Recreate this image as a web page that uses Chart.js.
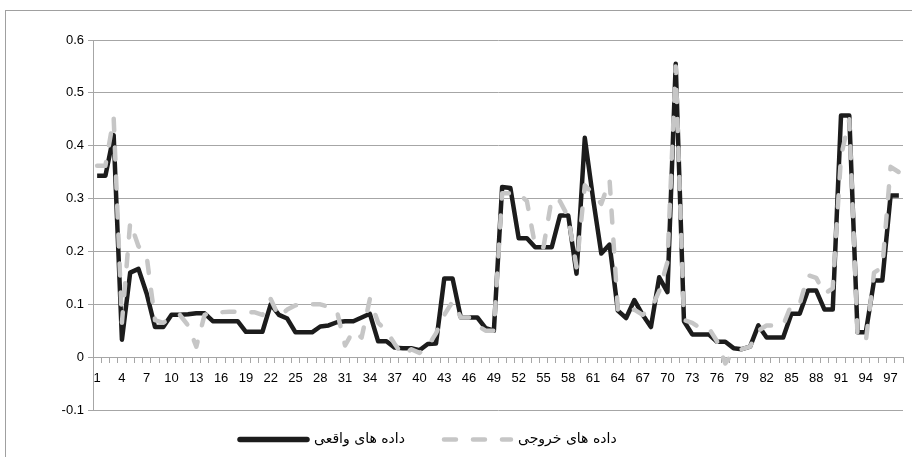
<!DOCTYPE html>
<html><head><meta charset="utf-8">
<script src="https://cdn.jsdelivr.net/npm/chart.js@4"></script>
<style>html,body{margin:0;padding:0;background:#fff;}canvas{display:block}</style>
</head><body>
<canvas id="c" width="912" height="457"></canvas>
<script>
const categories = ['1','2','3','4','5','6','7','8','9','10','11','12','13','14','15','16','17','18','19','20',
'21','22','23','24','25','26','27','28','29','30','31','32','33','34','35','36','37','38','39','40',
'41','42','43','44','45','46','47','48','49','50','51','52','53','54','55','56','57','58','59','60',
'61','62','63','64','65','66','67','68','69','70','71','72','73','74','75','76','77','78','79','80',
'81','82','83','84','85','86','87','88','89','90','91','92','93','94','95','96','97','98'];

const actualValues = [0.343,0.343,0.42,0.033,0.16,0.167,0.12,0.057,0.057,0.08,
0.08,0.081,0.083,0.083,0.068,0.068,0.068,0.068,0.048,0.048,
0.048,0.1,0.08,0.073,0.047,0.047,0.047,0.058,0.06,0.066,
0.068,0.068,0.075,0.082,0.03,0.03,0.018,0.017,0.017,0.013,
0.025,0.026,0.149,0.149,0.075,0.075,0.075,0.055,0.05,0.322,
0.32,0.225,0.225,0.208,0.208,0.208,0.268,0.268,0.158,0.415,
0.3,0.196,0.213,0.088,0.074,0.108,0.08,0.057,0.151,0.123,
0.555,0.068,0.043,0.043,0.043,0.029,0.029,0.017,0.015,0.02,
0.06,0.037,0.037,0.037,0.082,0.082,0.126,0.126,0.09,0.09,
0.457,0.457,0.047,0.047,0.145,0.145,0.306,0.306];

const outputValues = [0.362,0.362,0.453,0.065,0.255,0.21,0.19,0.07,0.065,0.075,
0.08,0.06,0.02,0.08,0.085,0.085,0.086,0.086,0.085,0.085,
0.08,0.11,0.076,0.09,0.098,0.1,0.1,0.1,0.095,0.088,
0.022,0.05,0.037,0.11,0.065,0.05,0.025,0.003,0.015,0.008,
0.02,0.045,0.08,0.105,0.075,0.075,0.06,0.05,0.05,0.31,
0.31,0.31,0.295,0.21,0.208,0.3,0.295,0.265,0.17,0.325,
0.31,0.29,0.335,0.09,0.085,0.09,0.08,0.09,0.125,0.18,
0.55,0.07,0.065,0.055,0.055,0.03,-0.012,0.01,0.015,0.02,
0.05,0.06,0.06,0.06,0.1,0.1,0.155,0.15,0.12,0.13,
0.38,0.45,0.04,0.03,0.16,0.17,0.36,0.35];

const xTickLabels = ['1','4','7','10','13','16','19','22','25','28','31','34','37','40','43','46','49',
'52','55','58','61','64','67','70','73','76','79','82','85','88','91','94','97'];
const yTickLabels = ['-0.1','0','0.1','0.2','0.3','0.4','0.5','0.6'];
const seriesNames = ['داده های واقعی', 'داده های خروجی'];

const tickFont = { family: "'Liberation Sans Narrow', 'Liberation Sans', Arial, sans-serif", size: 13 };
const gridColor = '#a6a6a6';

const framePlugin = {
  id: 'frame',
  beforeDraw(chart) {
    const ctx = chart.ctx;
    ctx.save();
    ctx.fillStyle = '#fff';
    ctx.fillRect(0, 0, chart.width, chart.height);
    ctx.strokeStyle = '#a0a0a0';
    ctx.lineWidth = 1;
    ctx.strokeRect(5.5, 10.5, 1200, 1200);
    ctx.restore();
  }
};

// Legend drawn on the canvas: line sample to the left of each series name
const legendPlugin = {
  id: 'sampleLegend',
  afterDraw(chart) {
    const ctx = chart.ctx;
    const y = 439.5;
    let x = 237;
    ctx.save();
    ctx.font = "14px 'DejaVu Sans', sans-serif";
    ctx.textBaseline = 'middle';
    ctx.textAlign = 'left';
    chart.data.datasets.forEach(ds => {
      ctx.beginPath();
      ctx.setLineDash(ds.borderDash || []);
      ctx.lineCap = 'round';
      ctx.lineWidth = ds.borderDash ? ds.borderWidth : 5.5;
      ctx.strokeStyle = ds.borderColor;
      ctx.moveTo(x + 3, y);
      ctx.lineTo(x + 70, y);
      ctx.stroke();
      ctx.setLineDash([]);
      ctx.fillStyle = '#000';
      ctx.fillText(ds.label, x + 77, y);
      x += 77 + ctx.measureText(ds.label).width + 36;
    });
    ctx.restore();
  }
};

new Chart(document.getElementById('c'), {
  type: 'line',
  data: {
    labels: categories,
    datasets: [
      {
        label: seriesNames[0],
        data: actualValues,
        borderColor: '#1c1c1c',
        backgroundColor: '#1c1c1c',
        borderWidth: 4.5,
        pointRadius: 0,
        tension: 0,
        borderJoinStyle: 'round',
        borderCapStyle: 'butt',
        order: 1
      },
      {
        label: seriesNames[1],
        data: outputValues,
        borderColor: '#c6c6c6',
        backgroundColor: '#c6c6c6',
        borderWidth: 4.5,
        borderDash: [12, 17],
        borderCapStyle: 'round',
        borderJoinStyle: 'round',
        pointRadius: 0,
        tension: 0,
        order: 0
      }
    ]
  },
  options: {
    responsive: false,
    animation: false,
    devicePixelRatio: 1,
    layout: { padding: { left: 0, right: 9, top: 40, bottom: 47 } },
    plugins: {
      tooltip: { enabled: false },
      legend: { display: false }
    },
    scales: {
      x: {
        type: 'category',
        position: { y: 0 },
        offset: true,
        ticks: {
          autoSkip: false,
          maxRotation: 0,
          minRotation: 0,
          padding: 8,
          color: '#000',
          font: tickFont,
          callback: function(v, i) { const l = categories[i]; return xTickLabels.includes(l) ? l : ''; }
        },
        grid: { offset: true, drawOnChartArea: false, drawTicks: true, tickLength: 5, color: gridColor, lineWidth: 1 },
        border: { display: true, color: gridColor, width: 1 }
      },
      y: {
        min: -0.1,
        max: 0.6,
        ticks: {
          stepSize: 0.1,
          padding: 4,
          color: '#000',
          font: tickFont,
          callback: function(v) { const s = String(Math.round(v * 10) / 10); return yTickLabels.includes(s) ? s : ''; }
        },
        grid: { color: gridColor, lineWidth: 1, tickLength: 5, drawTicks: true },
        border: { display: true, color: gridColor, width: 1 },
        afterFit: function(s) { s.width = 93; }
      }
    }
  },
  plugins: [framePlugin, legendPlugin]
});
</script>
</body></html>
